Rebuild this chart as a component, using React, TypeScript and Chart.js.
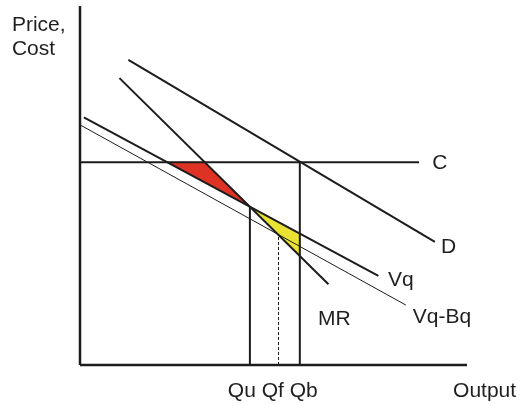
import React, { useEffect, useRef } from "react";
import { Chart, registerables } from "chart.js";

Chart.register(...registerables);

// Axis ranges (arbitrary units)
const X_MAX = 100;
const Y_MAX = 100;

// Curves: [x, y] end points
const costC = [[0, 56.5], [87.6, 56.5]];
const demandD = [[12.5, 85.0], [91.7, 34.3]];
const marginalMR = [[10.2, 79.9], [64.2, 22.5]];
const valueVq = [[1.0, 69.0], [77.1, 24.8]];
const valueVqBq = [[0, 66.9], [84.2, 16.7]];

// Quantity markers
const quQ = [[43.9, 0], [43.9, 44.2]];
const qbQ = [[56.8, 0], [56.8, 56.5]];
const qfQ = [[51.3, 0], [51.3, 36.3]];

// Shaded areas
const redArea = [[22.4, 56.5], [32.3, 56.5], [43.9, 44.2], [22.4, 56.5]];
const yellowArea = [[43.9, 44.2], [56.8, 36.6], [56.8, 30.4], [43.9, 44.2]];

// Axes
const yAxisLine = [[0, 0], [0, Y_MAX]];
const xAxisLine = [[0, 0], [X_MAX, 0]];

// Text labels: text, x (left edge), y (baseline)
const labelTexts = ["Price,", "Cost", "C", "D", "Vq", "MR", "Vq-Bq", "Qu Qf Qb", "Output"];
const labelX = [-17.6, -17.6, 91.0, 93.3, 79.6, 61.5, 86.0, 38.2, 96.4];
const labelY = [93.0, 86.4, 54.6, 31.2, 21.9, 11.1, 11.7, -8.8, -8.8];

const INK = "#1c1c1c";
const toPts = (arr: number[][]) => arr.map(([x, y]) => ({ x, y }));

const labelPlugin = {
  id: "econLabels",
  afterDraw(chart: any) {
    const { ctx, scales } = chart;
    ctx.save();
    ctx.fillStyle = "#1f1f1f";
    ctx.font = "21px 'Liberation Sans', Arial, sans-serif";
    ctx.textBaseline = "alphabetic";
    ctx.textAlign = "left";
    labelTexts.forEach((t, i) => {
      ctx.fillText(t, scales.x.getPixelForValue(labelX[i]), scales.y.getPixelForValue(labelY[i]));
    });
    ctx.restore();
  },
};

export default function App() {
  const ref = useRef<HTMLCanvasElement>(null);
  useEffect(() => {
    document.body.style.margin = "0";
    const line = (data: number[][], width: number, extra: any = {}) => ({
      type: "scatter",
      data: toPts(data),
      showLine: true,
      borderColor: INK,
      borderWidth: width,
      pointRadius: 0,
      fill: false,
      clip: false,
      order: 0,
      ...extra,
    });
    const area = (data: number[][], color: string) => ({
      type: "scatter",
      data: toPts(data),
      showLine: true,
      borderColor: color,
      borderWidth: 0.5,
      backgroundColor: color,
      pointRadius: 0,
      fill: "shape",
      clip: false,
      order: 10,
    });
    const chart = new Chart(ref.current as HTMLCanvasElement, {
      type: "scatter",
      data: {
        datasets: [
          area(redArea, "#de3324"),
          area(yellowArea, "#e9e233"),
          line(yAxisLine, 2.5),
          line(xAxisLine, 2.5),
          line(costC, 2),
          line(demandD, 2),
          line(marginalMR, 2),
          line(valueVq, 2),
          line(valueVqBq, 1),
          line(quQ, 2),
          line(qbQ, 2),
          line(qfQ, 1, { borderDash: [3, 2] }),
        ] as any,
      },
      options: {
        animation: false,
        responsive: true,
        maintainAspectRatio: false,
        layout: { padding: { left: 80, top: 6, right: 56, bottom: 39 } },
        scales: {
          x: { type: "linear", min: 0, max: X_MAX, display: false },
          y: { type: "linear", min: 0, max: Y_MAX, display: false },
        },
        plugins: { legend: { display: false }, tooltip: { enabled: false } },
      },
      plugins: [labelPlugin],
    });
    return () => chart.destroy();
  }, []);
  return (
    <div style={{ position: "fixed", left: 0, top: 0, width: 523, height: 404, background: "#fff" }}>
      <canvas ref={ref} />
    </div>
  );
}
